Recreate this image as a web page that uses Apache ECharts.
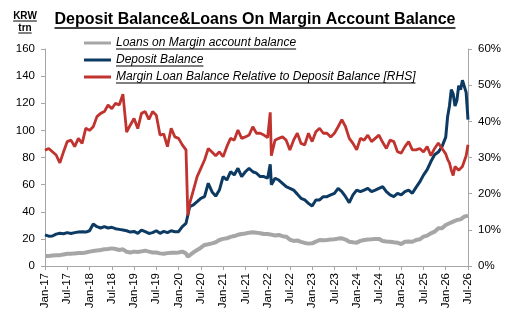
<!DOCTYPE html>
<html>
<head>
<meta charset="utf-8">
<script src="https://cdn.jsdelivr.net/npm/echarts@6/dist/echarts.min.js"></script>
<style>
html, body { margin: 0; padding: 0; background: #fff; }
#chart { width: 512px; height: 317px; }
</style>
</head>
<body>
<div id="chart"></div>
<script>
// x positions are month indexes: 0 = Jan-17, 6 = Jul-17 ... 114 = Jul-26
const tickLabels = ['Jan-17', 'Jul-17', 'Jan-18', 'Jul-18', 'Jan-19', 'Jul-19', 'Jan-20', 'Jul-20',
  'Jan-21', 'Jul-21', 'Jan-22', 'Jul-22', 'Jan-23', 'Jul-23', 'Jan-24', 'Jul-24',
  'Jan-25', 'Jul-25', 'Jan-26', 'Jul-26']

const months = [
  0, 1, 2, 3, 4, 5, 6, 7, 8, 9, 10, 11,
  12, 13, 14, 15, 16, 17, 18, 19, 20, 21, 22, 23,
  24, 25, 26, 27, 28, 29, 30, 31, 32, 33, 34, 35,
  36, 37, 38, 38.5, 39, 40, 41, 42, 43, 44, 45, 46, 47,
  48, 49, 50, 51, 52, 53, 54, 55, 56, 57, 58, 59,
  60, 60.7, 61, 62, 63, 64, 65, 66, 67, 68, 69, 70, 71,
  72, 73, 74, 75, 76, 77, 78, 79, 80, 81, 82, 83,
  84, 85, 86, 87, 88, 89, 90, 91, 92, 93, 94, 95,
  96, 97, 98, 99, 100, 101, 102, 103, 104, 105, 106, 107,
  108, 108.5, 109, 109.5, 110, 110.5, 111, 111.5, 112, 112.5, 113, 113.5, 114
]

// 신용융자 잔고 (KRW trn)
const loans = [
  7.4, 7.4, 7.8, 8.0, 8.0, 8.5, 9.0, 9.0, 9.3, 9.5, 9.5, 10.0,
  10.6, 11.0, 11.5, 11.8, 12.3, 12.5, 13.0, 12.5, 11.8, 12.3, 10.5, 10.0,
  10.6, 10.3, 10.8, 11.3, 10.6, 10.0, 10.0, 9.3, 9.0, 9.5, 9.8, 9.8,
  10.0, 10.6, 9.3, 6.9, 8.1, 10.0, 11.8, 13.5, 15.5, 16.0, 16.7, 17.5, 19.2,
  20.0, 20.4, 21.5, 22.1, 23.0, 23.6, 24.0, 24.6, 24.8, 24.6, 24.2, 23.6,
  23.6, 23.3, 22.9, 22.5, 22.9, 22.0, 21.6, 19.5, 18.5, 18.8, 17.8, 17.0, 16.5,
  16.7, 18.0, 19.2, 19.0, 19.2, 19.5, 19.7, 20.2, 20.4, 19.5, 17.9, 17.5,
  17.2, 18.5, 19.2, 19.5, 19.7, 20.0, 20.0, 18.5, 18.0, 17.9, 17.5, 17.2,
  16.2, 17.9, 18.0, 17.9, 19.2, 19.7, 21.6, 22.4, 24.1, 25.3, 27.8, 27.8,
  30.2, 30.8, 31.5, 32.0, 32.7, 33.3, 33.9, 34.0, 34.4, 35.5, 36.4, 37.0, 37.2
]

// 투자자 예탁금 (KRW trn)
const deposits = [
  22.9, 22.0, 22.1, 23.5, 24.1, 23.8, 24.6, 24.0, 24.6, 25.0, 25.3, 25.0,
  26.0, 31.0, 29.0, 28.0, 29.0, 28.0, 28.5, 27.5, 27.0, 26.5, 26.0, 25.0,
  25.5, 24.1, 26.5, 25.3, 24.0, 24.6, 26.0, 24.1, 25.5, 24.6, 26.0, 25.3,
  25.3, 29.0, 31.5, 37.6, 43.7, 45.0, 47.4, 49.9, 51.1, 61.0, 54.8, 51.5, 56.0,
  65.9, 63.4, 69.5, 67.1, 72.0, 65.9, 69.5, 72.0, 69.5, 68.4, 65.9, 65.9,
  64.7, 75.0, 60.0, 64.7, 63.4, 61.0, 58.5, 57.3, 56.0, 53.0, 49.9, 48.7, 46.2,
  44.2, 48.7, 48.7, 51.1, 51.1, 52.4, 53.6, 57.3, 54.8, 51.1, 46.7, 52.4,
  56.0, 54.8, 56.0, 57.3, 54.8, 56.0, 57.3, 58.5, 54.8, 52.4, 51.1, 53.6,
  52.4, 54.8, 56.0, 53.6, 58.0, 62.0, 67.0, 71.0, 77.0, 82.0, 84.0, 88.0,
  95.0, 110.0, 118.0, 130.0, 127.0, 118.0, 122.0, 133.0, 130.0, 137.0, 138.0, 128.0, 108.0
]

// 예탁금 대비 신용융자 비율 (%)
const ratio = [
  32.0, 32.5, 31.6, 30.7, 28.5, 31.6, 34.4, 34.8, 33.0, 35.3, 33.9, 38.1,
  37.5, 38.5, 41.3, 42.2, 42.7, 44.5, 43.5, 45.0, 44.5, 47.5, 37.0, 39.0,
  40.8, 38.0, 42.2, 42.7, 40.5, 42.7, 41.7, 36.2, 36.5, 33.0, 38.1, 35.7,
  35.3, 33.5, 32.1, 14.0, 17.3, 21.0, 24.7, 27.0, 29.3, 32.5, 31.5, 30.5, 31.6,
  30.2, 33.0, 35.3, 34.8, 37.6, 35.3, 35.7, 36.2, 38.5, 36.7, 36.7, 36.2,
  35.5, 42.5, 30.5, 34.8, 35.3, 35.7, 34.8, 32.1, 34.8, 36.7, 33.9, 33.5, 36.7,
  34.4, 37.1, 38.1, 36.7, 36.7, 35.7, 36.7, 38.5, 40.5, 38.5, 35.3, 33.9,
  32.1, 35.3, 34.8, 36.2, 34.4, 35.3, 36.2, 34.2, 32.5, 34.8, 34.4, 31.6,
  31.2, 33.0, 34.4, 32.1, 32.1, 32.5, 31.5, 33.0, 30.5, 32.5, 34.0, 32.5,
  31.0, 29.5, 28.5, 26.5, 25.0, 27.5, 27.5, 26.5, 27.0, 27.5, 27.0, 30.5, 33.5
]

const seriesNames = [
  'Loans on Margin account balance',
  'Deposit Balance',
  'Margin Loan Balance Relative to Deposit Balance [RHS]'
]

const FONT = '"Liberation Sans", Arial, sans-serif'
const axisColor = '#a6a6a6'

function pairs(values) {
  return months.map((m, i) => [m, values[i]])
}

// 글자 폭 측정 (밑줄용)
const ctx = document.createElement('canvas').getContext('2d')
function textWidth(text, font) {
  ctx.font = font
  return ctx.measureText(text).width
}

const legendLeft = 84
const legendTop = 36
const legendItemW = 27
const legendRow = 17

// 제목 / 단위 / 범례 밑줄
const titleText = 'Deposit Balance&Loans On Margin Account Balance'
const titleW = textWidth(titleText, 'bold 16px ' + FONT)
const titleX = 255
const graphics = [
  {
    type: 'text', left: titleX - titleW / 2, top: 12,
    style: { text: titleText, font: 'bold 16px ' + FONT, fill: '#000' }
  },
  {
    type: 'line', shape: { x1: titleX - titleW / 2, y1: 28, x2: titleX + titleW / 2, y2: 28 },
    style: { stroke: '#000', lineWidth: 1.3 }
  }
]
const unitLines = [['KRW', 11], ['trn', 23]]
unitLines.forEach(([t, y]) => {
  const w = textWidth(t, 'bold 10px ' + FONT)
  graphics.push({
    type: 'text', left: 25 - w / 2, top: y,
    style: { text: t, font: 'bold 10px ' + FONT, fill: '#000' }
  })
  graphics.push({
    type: 'line', shape: { x1: 25 - w / 2, y1: y + 10, x2: 25 + w / 2, y2: y + 10 },
    style: { stroke: '#000', lineWidth: 1 }
  })
})
seriesNames.forEach((name, i) => {
  const w = textWidth(name, 'italic 12px ' + FONT)
  const x0 = legendLeft + legendItemW + 5
  const y = legendTop + 7 + i * legendRow + 6
  graphics.push({
    type: 'line', shape: { x1: x0, y1: y, x2: x0 + w, y2: y },
    style: { stroke: '#000', lineWidth: 1 }
  })
})

const myChart = echarts.init(document.getElementById('chart'))
const option = {
  animation: false,
  backgroundColor: '#fff',
  textStyle: { fontFamily: FONT },
  grid: { left: 45, right: 44, top: 49, bottom: 51 },
  legend: {
    orient: 'vertical',
    left: legendLeft,
    top: legendTop,
    itemWidth: legendItemW,
    itemHeight: 3,
    itemGap: 3,
    padding: 0,
    textStyle: { fontSize: 12, fontStyle: 'italic', color: '#000', lineHeight: 14, fontFamily: FONT },
    data: [
      { name: seriesNames[0], icon: 'rect' },
      { name: seriesNames[1], icon: 'rect' },
      { name: seriesNames[2], icon: 'rect' }
    ]
  },
  xAxis: {
    type: 'value',
    min: 0,
    max: 114,
    interval: 6,
    axisLine: { lineStyle: { color: axisColor, width: 1 } },
    axisTick: { show: true, length: 4, lineStyle: { color: axisColor } },
    splitLine: { show: false },
    axisLabel: {
      rotate: 90,
      margin: 7,
      fontSize: 11.5,
      color: '#000',
      formatter: v => tickLabels[Math.round(v / 6)]
    }
  },
  yAxis: [
    {
      type: 'value',
      min: 0,
      max: 160,
      interval: 20,
      axisLine: { show: true, lineStyle: { color: axisColor } },
      axisTick: { show: true, length: 4, lineStyle: { color: axisColor } },
      splitLine: { show: false },
      axisLabel: { fontSize: 11.5, color: '#000', margin: 10 }
    },
    {
      type: 'value',
      min: 0,
      max: 60,
      interval: 10,
      position: 'right',
      axisLine: { show: true, lineStyle: { color: axisColor } },
      axisTick: { show: true, length: 4, lineStyle: { color: axisColor } },
      splitLine: { show: false },
      axisLabel: { fontSize: 11.5, color: '#000', margin: 10, formatter: '{value}%' }
    }
  ],
  series: [
    {
      name: seriesNames[0],
      type: 'line',
      yAxisIndex: 0,
      symbol: 'none',
      color: '#a6a6a6',
      lineStyle: { width: 4 },
      data: pairs(loans)
    },
    {
      name: seriesNames[1],
      type: 'line',
      yAxisIndex: 0,
      symbol: 'none',
      color: '#0d3a63',
      lineStyle: { width: 3 },
      data: pairs(deposits)
    },
    {
      name: seriesNames[2],
      type: 'line',
      yAxisIndex: 1,
      symbol: 'none',
      color: '#c0332f',
      lineStyle: { width: 2.8 },
      data: pairs(ratio)
    }
  ],
  graphic: graphics
}
myChart.setOption(option)
</script>
</body>
</html>
